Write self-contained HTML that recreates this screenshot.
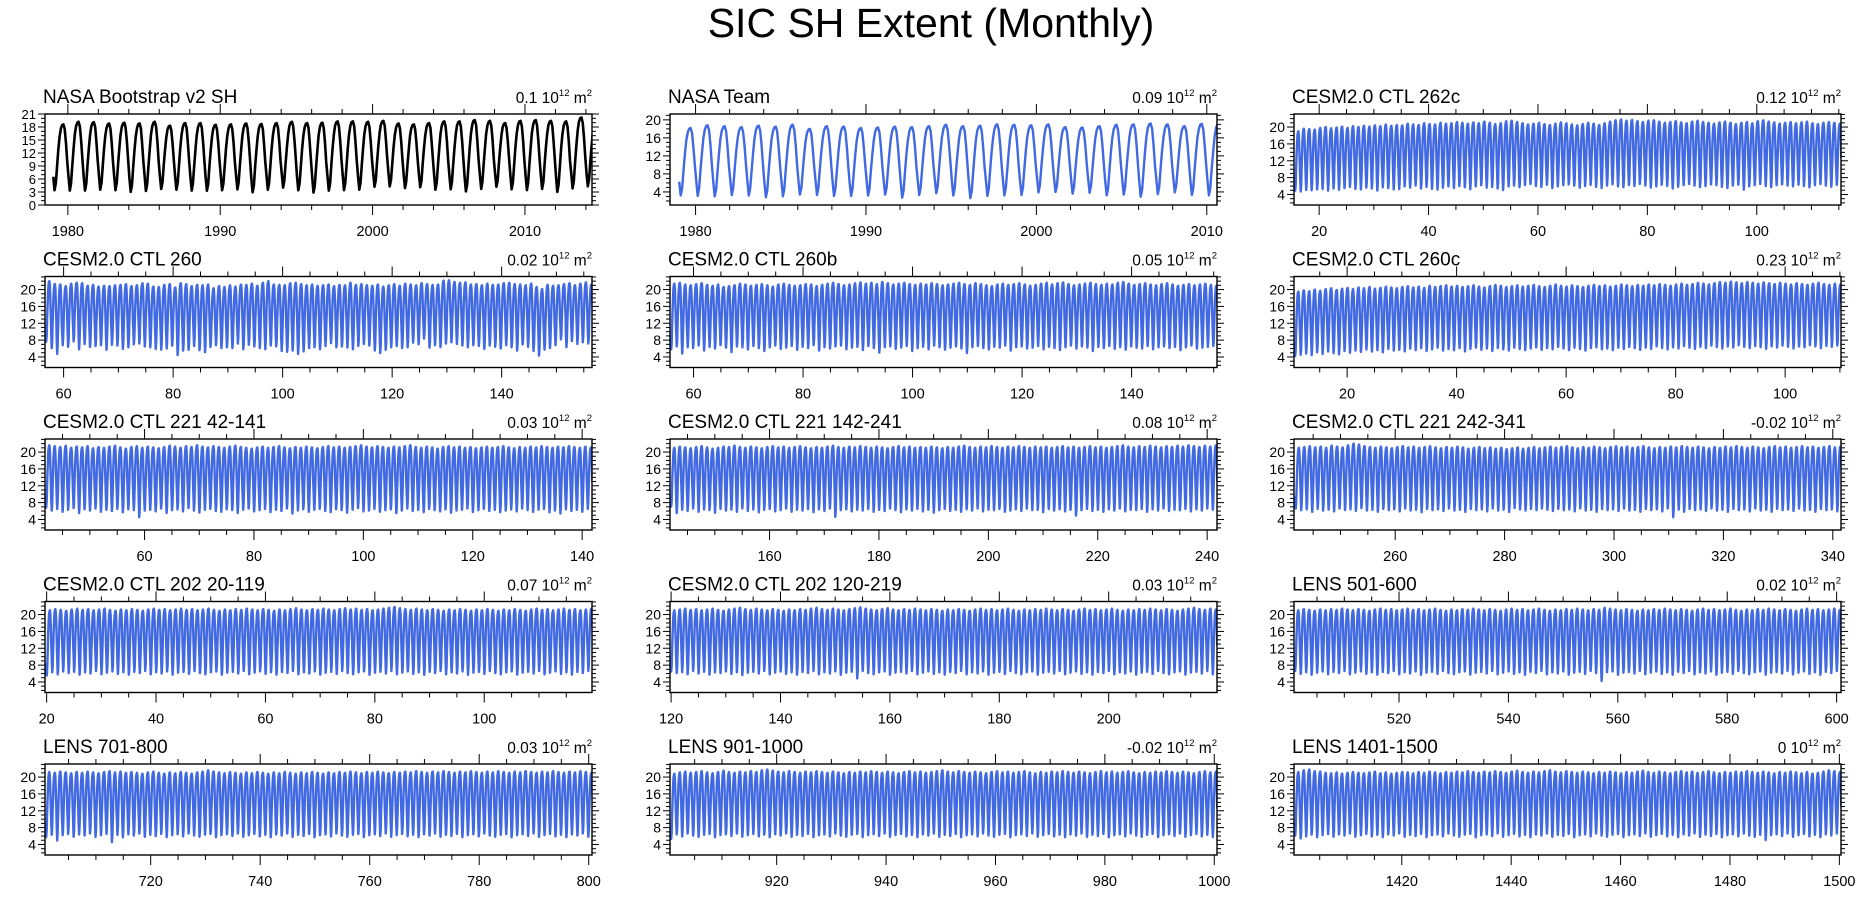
<!DOCTYPE html>
<html>
<head>
<meta charset="utf-8">
<style>
html,body{margin:0;padding:0;background:#fff;}
svg{display:block;font-family:"Liberation Sans",Arial,sans-serif;}
</style>
</head>
<body>
<svg id="fig" width="1863" height="897" viewBox="0 0 1863 897" xmlns="http://www.w3.org/2000/svg">
<rect x="0" y="0" width="1863" height="897" fill="#fff"/>
<text x="931" y="37" text-anchor="middle" font-size="41">SIC SH Extent (Monthly)</text>
</svg>
<script>
// ---- data: annual seasonal max / min (10^12 m^2) per panel ----
const seasonFrac = [0.22,0.02,0.12,0.38,0.62,0.82,0.94,0.99,1.0,0.93,0.72,0.45];

const bootMax = [18.6,19.2,19.1,18.8,19.0,18.8,19.2,18.3,18.9,18.9,18.5,18.6,18.8,18.7,18.9,19.2,18.9,19.0,19.3,19.3,19.2,19.4,18.8,18.6,18.9,19.3,19.3,19.6,19.4,18.9,19.4,19.6,19.4,19.3,20.2,19.6];
const bootMin = [3.1,3.0,3.0,3.2,3.1,2.7,2.9,3.4,3.2,3.0,3.0,3.1,3.3,2.6,3.2,3.7,3.1,2.5,3.0,3.1,3.2,3.9,4.0,3.6,3.8,3.2,3.3,2.8,3.4,3.9,3.3,3.1,3.4,2.7,3.5,4.0];
const teamMax = [18.2,18.8,18.6,18.4,18.7,18.5,18.9,18.0,18.6,18.5,18.2,18.3,18.5,18.4,18.6,18.9,18.6,18.7,19.0,18.9,18.8,19.0,18.4,18.3,18.6,18.9,19.0,19.2,19.0,18.6,19.1,19.2];
const teamMin = [2.9,2.8,2.7,3.0,2.9,2.5,2.7,3.1,3.0,2.8,2.8,2.9,3.1,2.4,3.0,3.4,2.9,2.3,2.8,2.9,3.0,3.6,3.7,3.3,3.5,2.9,3.1,2.6,3.2,3.6,3.0,2.9];

const c262cMax = [19.0,19.6,19.5,19.4,19.8,20.0,19.7,19.9,20.1,19.8,20.2,20.0,20.3,20.1,20.4,20.2,20.6,20.3,20.5,20.4,20.8,20.6,20.5,20.9,20.7,20.6,21.0,20.8,20.9,21.2,21.0,20.8,21.1,20.9,21.3,21.0,20.7,20.9,21.4,21.5,21.2,20.9,20.6,20.8,21.0,20.7,20.5,20.8,21.1,20.9,20.6,20.4,20.7,21.0,20.8,20.5,20.9,21.3,21.6,21.8,21.5,21.7,21.4,21.2,21.5,21.6,21.3,21.0,21.2,21.4,21.1,20.9,21.3,21.5,21.2,21.0,20.8,21.1,21.3,21.0,20.7,21.0,21.2,20.9,21.4,21.6,21.3,21.1,20.8,21.0,21.2,20.9,21.1,21.3,20.9,20.7,21.0,21.2,21.0,20.8];
const c262cMin = [4.6,4.4,4.8,4.7,4.9,5.0,4.6,5.1,4.8,5.2,5.5,5.0,4.9,5.3,5.1,4.6,5.4,5.2,4.9,5.0,5.6,5.3,5.8,5.1,5.5,5.0,4.8,5.3,5.6,5.2,5.7,5.4,4.9,5.6,5.9,5.3,5.5,5.1,4.7,5.6,5.8,5.4,5.9,6.2,5.7,5.5,6.0,5.2,5.6,5.9,6.1,5.8,5.3,5.7,6.0,5.5,5.2,5.8,6.1,5.6,5.4,5.9,5.7,6.2,5.8,5.3,5.6,6.0,5.7,5.1,5.5,5.9,6.2,5.8,5.4,5.7,6.1,5.9,5.5,5.2,5.8,6.0,4.8,5.6,5.9,6.2,5.7,5.4,5.9,6.1,5.8,5.6,6.0,5.7,5.4,5.9,6.2,5.8,5.5,6.0];

const c260Max = [22.0,21.3,21.2,20.8,21.4,21.6,21.5,20.9,21.1,20.7,20.9,20.8,21.0,21.1,21.3,20.8,21.0,21.5,21.4,20.7,20.6,21.1,21.3,20.5,21.5,21.3,20.8,21.1,21.0,21.2,20.3,20.8,20.6,21.0,20.7,21.2,21.1,21.4,20.9,21.6,22.0,21.2,21.1,21.0,21.5,21.6,21.3,21.0,21.2,20.9,21.0,21.2,20.8,21.1,21.0,21.6,21.1,21.3,21.0,20.9,21.2,20.7,21.0,21.3,20.9,21.4,21.2,21.0,21.5,21.3,21.1,21.2,22.1,22.2,21.8,21.6,21.7,21.2,21.3,21.0,21.4,21.1,21.2,21.5,21.6,21.3,21.2,21.0,21.4,20.6,20.1,21.1,20.9,21.0,21.3,21.5,21.0,21.4,21.7,21.2];
const c260Min = [7.3,5.8,4.4,6.5,6.1,7.4,5.5,6.8,6.1,6.3,6.5,5.4,6.6,6.4,5.6,6.0,6.7,6.9,6.2,6.0,5.6,5.4,5.7,6.4,4.1,5.2,5.4,6.3,5.3,4.8,6.1,6.5,5.8,6.0,5.8,6.9,5.5,6.6,6.2,5.8,5.5,6.4,6.2,5.1,4.9,5.2,4.4,5.0,5.8,6.0,5.5,6.3,7.0,6.0,6.2,5.9,5.5,6.3,6.8,6.4,5.2,4.6,5.4,6.0,6.3,5.8,6.0,7.1,6.7,8.1,5.9,6.5,6.0,6.9,7.2,6.8,6.4,6.0,6.5,6.3,5.6,6.4,6.1,5.7,6.5,6.0,5.2,6.7,6.1,5.1,4.0,5.4,5.8,6.5,7.9,6.0,7.5,6.8,7.2,6.9];

const c260bMax = [21.4,21.6,21.2,21.0,21.3,21.5,21.1,20.9,21.2,20.6,20.8,21.0,21.4,21.2,20.9,21.1,21.3,21.0,20.7,21.2,21.4,21.1,20.9,21.0,21.3,21.2,20.8,21.1,21.4,21.6,21.3,21.0,21.2,21.5,21.7,21.4,21.6,21.3,21.8,21.5,21.2,21.4,21.6,21.3,21.1,21.4,21.2,21.5,21.3,21.0,21.2,21.4,21.6,21.3,21.1,21.5,21.3,21.0,20.8,21.2,21.4,21.1,21.3,21.5,21.2,20.9,21.1,21.4,21.6,21.2,21.5,21.7,21.3,21.0,21.2,21.4,21.6,21.3,21.1,21.4,21.2,21.6,21.8,21.4,21.1,21.3,21.5,21.2,21.0,21.3,21.5,21.2,20.9,21.1,21.3,21.0,21.2,21.4,21.1,20.9];
const c260bMin = [5.5,6.2,4.5,6.0,5.8,6.4,5.2,6.1,5.7,6.5,5.9,4.8,6.2,6.0,5.5,6.3,5.8,5.1,6.0,6.4,5.6,5.9,6.3,5.4,6.1,5.8,6.5,5.2,6.0,5.7,6.2,6.4,5.5,5.9,6.1,5.3,6.3,5.8,4.7,6.0,6.2,5.6,5.9,6.3,5.1,5.8,6.1,5.5,6.4,6.0,5.4,5.9,6.2,5.7,4.6,6.0,6.3,5.8,5.5,6.1,5.9,6.4,5.2,6.0,6.2,5.7,5.9,6.3,5.5,6.1,5.8,5.3,6.0,6.4,5.7,6.2,5.9,5.1,6.1,5.8,6.3,5.6,6.0,5.4,6.2,5.9,5.7,6.3,5.5,6.0,6.2,5.8,6.1,5.3,6.0,6.4,5.7,5.9,6.1,6.3];

const c260cMax = [19.5,19.8,19.6,20.0,19.7,20.1,20.3,19.9,20.2,20.4,20.1,20.5,20.3,20.6,20.2,20.4,20.7,20.5,20.3,20.6,20.8,20.5,20.7,20.4,20.9,20.6,20.8,21.0,20.7,20.9,20.6,20.8,21.0,20.7,20.5,20.8,21.1,20.9,20.6,20.8,21.0,20.7,20.9,21.1,20.8,20.6,20.9,21.2,20.9,20.7,21.0,20.8,20.6,20.9,21.1,20.8,21.0,20.7,20.9,21.2,21.0,20.8,21.1,20.9,21.2,21.0,21.3,21.1,20.9,21.2,21.4,21.1,21.3,21.6,21.4,21.2,21.5,21.8,21.6,21.9,21.7,21.5,21.8,21.6,21.4,21.7,21.5,21.3,21.6,21.4,21.2,21.5,21.3,21.1,21.4,21.6,21.3,21.1,21.4,21.2];
const c260cMin = [3.9,4.2,4.5,4.1,4.8,4.4,5.0,4.6,4.3,5.1,4.7,5.2,4.9,5.5,5.0,5.3,4.8,5.6,5.2,5.4,5.0,5.7,5.3,5.8,5.1,5.5,5.9,5.2,5.6,5.3,5.8,5.0,5.6,5.9,5.4,5.7,5.1,5.8,5.5,5.2,5.9,5.6,5.3,5.7,6.0,5.4,5.8,5.5,6.1,5.7,5.3,5.9,5.6,5.2,5.8,6.0,5.5,5.7,5.3,5.9,5.6,6.1,5.8,5.4,5.9,5.6,6.2,5.8,5.5,6.0,5.7,6.3,5.9,5.6,6.1,5.8,6.4,6.0,5.7,6.2,5.9,6.5,6.1,5.8,6.3,6.0,5.6,6.2,5.9,6.4,6.1,5.7,6.2,6.0,6.5,6.2,5.8,6.3,6.1,6.4];

const c221aMax = [21.6,21.4,21.2,21.5,21.0,21.3,21.1,21.4,20.9,21.2,21.0,21.3,21.5,21.1,20.8,21.2,21.4,21.0,21.3,21.1,20.9,21.2,21.5,21.3,21.0,21.4,21.2,21.6,21.3,21.1,21.4,21.2,21.0,21.3,21.5,21.2,21.0,20.8,21.1,21.3,21.0,21.2,21.4,21.1,20.9,21.2,21.0,21.3,21.1,20.9,21.2,21.4,21.1,21.3,21.0,21.2,21.4,21.6,21.3,21.1,21.4,21.2,21.0,21.3,21.1,21.4,21.6,21.2,21.0,21.3,21.1,20.8,21.2,21.4,21.1,21.3,21.0,21.2,20.9,21.1,21.3,21.0,21.2,21.4,21.1,20.9,21.2,21.0,21.3,21.1,21.4,21.2,21.0,21.3,21.1,21.4,21.2,21.0,21.3,21.1];
const c221aMin = [6.5,5.8,6.2,5.5,6.0,6.4,5.2,6.1,5.8,6.3,5.5,6.0,5.7,6.2,5.4,6.1,5.9,4.2,5.8,6.0,5.6,6.3,5.2,5.9,6.1,5.6,6.4,5.8,5.3,6.0,6.2,5.7,5.5,6.1,5.9,5.2,6.0,6.3,5.6,5.9,6.2,5.4,6.0,5.7,6.3,5.1,5.8,6.1,5.5,6.0,6.2,5.7,5.4,6.1,5.9,5.3,6.0,6.4,5.6,5.8,6.2,5.5,5.9,6.1,5.2,5.8,6.3,5.7,6.0,5.4,6.2,5.9,5.6,6.1,5.3,5.8,6.0,6.3,5.5,5.9,6.2,5.7,6.0,5.4,5.8,6.1,5.6,6.3,5.9,5.5,6.0,6.2,5.4,5.8,5.1,6.1,5.7,6.0,5.5,6.2];

const c221bMax = [21.0,21.3,21.1,20.9,21.2,21.4,21.1,20.8,21.0,21.3,21.2,21.5,21.2,21.0,21.3,21.1,20.9,21.2,21.4,21.1,21.3,21.0,21.2,21.4,21.1,20.9,21.2,21.0,21.3,21.5,21.2,21.0,21.3,21.1,21.4,21.2,21.0,21.3,21.1,20.9,21.2,21.4,21.1,21.3,21.0,21.2,21.0,21.3,21.1,20.9,21.2,21.0,21.3,21.5,21.2,21.0,21.3,21.1,21.4,21.2,21.0,21.3,21.1,21.4,21.2,21.0,21.3,21.1,21.3,21.0,21.2,21.4,21.1,21.3,21.0,21.2,21.4,21.1,21.3,21.0,21.2,21.4,21.6,21.3,21.1,21.4,21.2,21.5,21.3,21.1,21.4,21.2,21.5,21.3,21.6,21.4,21.2,21.5,21.3,21.6];
const c221bMin = [6.8,5.2,6.0,5.7,6.3,5.5,6.1,5.9,5.3,6.2,5.8,6.0,5.5,6.3,5.7,6.1,5.4,6.0,6.2,5.6,5.9,6.3,5.5,6.0,5.8,6.2,5.4,6.1,5.7,6.3,4.3,5.9,6.1,5.6,6.0,5.8,6.2,5.5,6.0,5.7,6.3,5.9,5.4,6.1,5.8,6.2,5.6,6.0,5.3,5.9,6.2,5.7,6.0,5.5,6.1,5.8,6.3,5.6,6.0,5.9,6.2,5.5,5.8,6.1,5.7,6.3,5.9,6.0,5.4,6.2,5.8,6.1,5.6,6.0,4.6,5.9,6.2,5.7,6.0,5.5,6.1,5.8,6.3,5.6,6.0,5.9,6.2,5.5,6.1,5.8,6.3,5.7,6.0,5.9,6.2,5.6,6.1,5.8,6.3,6.0];

const c221cMax = [21.0,21.2,21.4,21.1,21.3,21.0,21.5,21.3,21.1,21.6,22.0,21.8,21.4,21.2,21.0,21.3,21.1,20.9,21.2,21.4,21.1,21.3,21.0,21.2,21.4,21.1,20.9,21.2,21.0,21.3,21.1,20.8,21.0,21.2,20.9,21.1,20.8,21.0,20.7,20.9,21.1,20.8,21.0,21.2,20.9,21.1,21.3,21.0,21.2,21.4,21.1,20.9,21.2,21.0,21.3,21.1,20.9,21.2,21.4,21.1,21.3,21.0,21.2,21.4,21.1,20.9,21.2,21.0,21.3,21.1,21.4,21.2,21.0,21.3,21.1,20.9,21.2,21.0,21.3,21.1,21.4,21.2,21.0,21.3,21.1,20.9,21.2,21.4,21.1,21.3,21.0,21.2,21.4,21.1,21.3,21.0,21.2,21.4,21.1,21.3];
const c221cMin = [6.3,5.9,6.1,5.5,6.2,5.8,6.0,5.6,6.3,5.9,6.1,5.7,6.4,5.8,6.0,5.5,6.2,5.9,6.1,5.6,6.3,5.8,6.0,5.4,6.2,5.9,6.1,5.7,6.3,5.8,6.0,5.5,6.2,5.9,6.1,5.6,6.3,5.8,6.0,5.5,6.4,6.1,5.8,6.2,5.9,6.3,6.0,5.7,6.2,5.9,6.1,5.6,6.3,5.8,6.0,5.5,6.2,5.9,6.1,5.7,6.3,5.8,6.0,5.5,6.2,5.9,6.1,5.6,6.3,4.2,6.0,5.5,6.2,5.9,6.1,5.7,6.3,5.8,6.0,5.5,6.2,5.9,6.1,5.6,6.3,5.8,6.0,5.5,6.2,5.9,6.1,5.7,6.3,5.8,6.0,5.5,6.2,5.9,6.1,5.6];

const c202aMax = [21.0,21.3,21.1,20.9,21.2,21.4,21.1,21.3,21.0,21.2,21.4,21.1,20.9,21.2,21.0,21.3,21.1,20.9,21.2,21.4,21.1,21.3,21.0,21.2,21.4,21.1,21.3,21.0,21.2,21.4,21.1,20.9,21.2,21.0,21.3,21.1,21.4,21.2,21.0,21.3,21.1,20.9,21.2,21.0,21.3,21.5,21.2,21.0,21.3,21.1,21.4,21.2,21.0,21.3,21.5,21.2,21.4,21.1,21.3,21.0,21.2,21.4,21.6,21.8,21.5,21.3,21.1,21.4,21.2,21.0,21.3,21.1,20.9,21.2,21.0,21.3,21.1,20.9,21.2,21.0,21.3,21.1,20.9,21.2,21.0,21.3,21.1,20.9,21.2,21.4,21.1,21.3,21.0,21.2,21.4,21.1,21.3,21.0,21.2,21.4];
const c202aMin = [5.2,6.0,5.5,6.2,5.8,6.1,5.4,6.0,5.7,6.3,5.5,5.9,6.2,5.6,6.0,5.4,6.1,5.8,6.3,5.5,6.0,5.7,6.2,5.4,5.9,6.1,5.6,6.3,5.8,5.5,6.0,6.2,5.4,5.9,6.1,5.7,6.3,5.5,5.9,6.2,5.6,6.0,5.4,6.1,5.8,6.3,5.5,6.0,5.7,6.2,5.4,5.9,6.1,5.6,6.3,5.8,5.5,6.0,6.2,5.4,5.9,6.1,5.7,6.3,5.5,5.9,6.2,5.6,6.0,5.4,6.1,5.8,6.3,5.5,6.0,5.7,6.2,5.4,5.9,6.1,5.6,6.3,5.8,5.5,6.0,6.2,5.4,5.9,6.1,5.7,6.3,5.5,5.9,6.2,5.6,6.0,5.4,6.1,5.8,6.3];

const c202bMax = [21.0,21.2,21.4,21.1,21.3,21.0,21.2,21.4,21.1,20.9,21.2,21.4,21.6,21.3,21.1,21.4,21.2,21.0,21.3,21.1,20.9,21.2,21.0,21.3,21.1,21.4,21.6,21.3,21.1,21.4,21.2,21.0,21.3,21.5,21.7,21.4,21.2,21.0,21.3,21.5,21.2,21.0,21.3,21.1,21.4,21.2,21.0,21.3,21.1,20.9,21.2,21.0,21.3,21.1,20.9,21.2,21.4,21.1,21.3,21.0,21.2,21.4,21.1,20.9,21.2,21.0,21.3,21.1,21.4,21.2,21.0,21.3,21.1,20.9,21.2,21.4,21.1,21.3,21.0,21.2,21.4,21.1,20.9,21.2,21.0,21.3,21.1,21.4,21.2,21.0,21.3,21.1,20.9,21.2,21.4,21.6,21.3,21.1,21.4,21.2];
const c202bMin = [6.2,5.8,6.0,5.5,6.3,5.7,6.1,5.4,6.0,5.8,6.2,5.6,6.0,5.3,5.9,6.1,5.7,6.3,5.5,5.9,6.2,5.6,6.0,5.4,6.1,5.8,6.3,5.5,6.0,5.7,6.2,5.4,5.9,6.1,4.5,6.3,5.8,5.5,6.0,6.2,5.4,5.9,6.1,5.7,6.3,5.5,5.9,6.2,5.6,6.0,5.4,6.1,5.8,6.3,5.5,6.0,5.7,6.2,5.4,5.9,6.1,5.6,6.3,5.8,5.5,6.0,6.2,5.4,5.9,6.1,5.7,6.3,5.5,5.9,6.2,5.6,6.0,5.4,6.1,5.8,6.3,5.5,6.0,5.7,6.2,5.4,5.9,6.1,5.6,6.3,5.8,5.5,6.0,6.2,5.4,5.9,6.1,5.7,6.3,5.5];

const l501Max = [21.0,21.3,21.1,20.9,21.2,21.0,21.3,21.1,21.4,21.2,21.0,21.3,21.1,20.9,21.2,21.4,21.1,21.3,21.0,21.2,21.4,21.1,21.3,21.0,21.2,21.4,21.1,20.9,21.2,21.0,21.3,21.1,21.4,21.2,21.0,21.3,21.1,20.9,21.2,21.4,21.1,21.3,21.0,21.2,21.4,21.1,20.9,21.2,21.0,21.3,21.1,21.4,21.2,21.0,21.3,21.1,21.6,21.4,21.2,21.0,21.3,21.1,20.9,21.2,21.0,21.3,21.1,21.4,21.2,21.0,21.3,21.1,20.9,21.2,21.4,21.1,21.3,21.0,21.2,21.4,21.1,20.9,21.2,21.0,21.3,21.1,21.4,21.2,21.0,21.3,21.1,20.9,21.2,21.4,21.1,21.3,21.0,21.2,21.4,21.1];
const l501Min = [6.3,5.6,6.0,5.4,5.9,6.2,5.5,6.1,5.8,6.3,5.5,5.9,6.2,5.6,6.0,5.4,6.1,5.8,6.3,5.5,6.0,5.7,6.2,5.4,5.9,6.1,5.6,6.3,5.8,5.5,6.0,6.2,5.4,5.9,6.1,5.7,6.3,5.5,5.9,6.2,5.6,6.0,5.4,6.1,5.8,6.3,5.5,6.0,5.7,6.2,5.4,5.9,6.1,5.6,6.3,5.8,3.9,6.0,6.2,5.4,5.9,6.1,5.7,6.3,5.5,5.9,6.2,5.6,6.0,5.4,6.1,5.8,6.3,5.5,6.0,5.7,6.2,5.4,5.9,6.1,5.6,6.3,5.8,5.5,6.0,6.2,5.4,5.9,6.1,5.7,6.3,5.5,5.9,6.2,5.6,6.0,5.4,6.1,5.8,6.3];

const l701Max = [21.2,21.0,21.3,21.1,20.9,21.2,21.0,21.3,21.1,20.9,21.2,21.4,21.1,21.3,21.0,21.2,21.0,20.8,21.1,21.3,21.0,20.8,21.1,20.9,21.2,21.0,20.8,21.1,21.3,21.6,21.3,21.1,20.9,21.2,21.0,20.8,21.1,20.9,21.2,21.0,20.8,21.1,20.9,21.2,21.0,20.8,21.1,20.9,21.2,21.0,20.8,21.1,20.9,21.2,21.0,21.3,21.1,20.9,21.2,21.0,21.3,21.1,20.9,21.2,21.0,21.3,21.1,21.4,21.2,21.0,21.3,21.1,21.4,21.2,21.0,21.3,21.1,21.4,21.2,21.0,21.3,21.1,21.4,21.2,21.0,21.3,21.1,21.4,21.2,21.0,21.3,21.1,21.4,21.2,21.0,21.3,21.1,21.4,21.2,21.0];
const l701Min = [5.4,6.0,4.6,5.9,6.2,5.5,6.1,5.8,6.3,5.5,5.9,6.2,4.2,6.0,5.4,6.1,5.8,6.3,5.5,6.0,5.7,6.2,5.4,5.9,6.1,5.6,6.3,5.8,5.5,6.0,6.2,5.4,5.9,6.1,5.7,6.3,5.5,5.9,6.2,5.6,6.0,5.4,6.1,5.8,6.3,5.5,6.0,5.7,6.2,5.4,5.9,6.1,5.6,6.3,5.8,5.5,6.0,6.2,5.4,5.9,6.1,5.7,6.3,5.5,5.9,6.2,5.6,6.0,5.4,6.1,5.8,6.3,5.5,6.0,5.7,6.2,5.4,5.9,6.1,5.6,6.3,5.8,5.5,6.0,6.2,5.4,5.9,6.1,5.7,6.3,5.5,5.9,6.2,5.6,6.0,5.4,6.1,5.8,6.3,5.5];

const l901Max = [20.8,21.1,21.3,21.0,21.2,21.4,21.1,20.9,21.2,21.5,21.2,21.0,21.3,21.1,21.4,21.2,21.6,21.8,21.5,21.3,21.1,21.4,21.2,21.0,21.3,21.1,21.4,21.2,21.0,21.3,21.1,20.9,21.2,21.0,21.3,21.1,21.4,21.2,21.0,21.3,21.1,20.9,21.2,21.4,21.1,21.3,21.0,21.2,21.4,21.6,21.3,21.1,21.4,21.2,21.0,21.3,21.1,20.9,21.2,21.4,21.1,21.3,21.0,21.2,21.4,21.1,20.9,21.2,21.0,21.3,21.1,21.4,21.2,21.0,21.3,21.1,20.9,21.2,21.4,21.1,21.3,21.0,21.2,21.4,21.1,20.9,21.2,21.0,21.3,21.1,21.4,21.2,21.0,21.3,21.1,20.9,21.2,21.4,21.1,21.3];
const l901Min = [5.0,6.1,5.6,6.3,5.8,5.5,6.0,6.2,5.4,5.9,6.1,5.7,6.3,5.5,5.9,6.2,5.6,6.0,5.4,6.1,5.8,6.3,5.5,6.0,5.7,6.2,5.4,5.9,6.1,5.6,6.3,5.8,5.5,6.0,6.2,5.4,5.9,6.1,5.7,6.3,5.5,5.9,6.2,5.6,6.0,5.4,6.1,5.8,6.3,5.5,6.0,5.7,6.2,5.4,5.9,6.1,5.6,6.3,5.8,5.5,6.0,6.2,5.4,5.9,6.1,5.7,6.3,5.5,5.9,6.2,5.6,6.0,5.4,6.1,5.8,6.3,5.5,6.0,5.7,6.2,5.4,5.9,6.1,5.6,6.3,5.8,5.5,6.0,6.2,5.4,5.9,6.1,5.7,6.3,5.5,5.9,6.2,5.6,6.0,5.4];

const l1401Max = [21.2,21.6,21.8,21.4,21.3,21.0,20.9,21.1,20.8,21.0,21.2,21.0,20.9,21.1,21.3,20.9,21.1,20.8,21.0,21.2,21.1,20.9,21.2,21.0,21.3,21.1,20.9,21.2,21.0,21.3,21.1,21.4,21.2,21.0,21.3,21.1,21.4,21.2,21.0,21.3,21.5,21.2,21.0,21.3,21.1,21.4,21.6,21.3,21.1,21.4,21.2,21.0,21.3,21.1,20.9,21.2,21.0,21.3,21.1,20.9,21.2,21.0,21.3,21.5,21.2,21.0,21.3,21.1,20.9,21.2,21.4,21.1,21.3,21.0,21.2,21.4,21.1,20.9,21.2,21.0,21.3,21.1,21.4,21.2,21.0,21.3,21.1,20.9,21.2,21.0,21.3,21.1,20.9,21.2,20.8,21.0,21.3,21.6,21.4,21.2];
const l1401Min = [5.8,5.1,5.6,6.0,5.4,5.9,6.2,5.5,6.1,5.8,6.3,5.5,5.9,6.2,5.6,6.0,5.4,6.1,5.8,6.3,5.5,6.0,5.7,6.2,5.4,5.9,6.1,5.6,6.3,5.8,5.5,6.0,6.2,5.4,5.9,6.1,5.7,6.3,5.5,5.9,6.2,5.6,6.0,5.4,6.1,5.8,6.3,5.5,6.0,5.7,6.2,5.4,5.9,6.1,5.6,6.3,5.8,5.5,6.0,6.2,5.4,5.9,6.1,5.7,6.3,5.5,5.9,6.2,5.6,6.0,5.4,6.1,5.8,6.3,5.5,6.0,5.7,6.2,5.4,5.9,6.1,5.6,6.3,5.8,5.5,6.0,4.7,5.9,6.1,5.7,6.3,5.5,5.9,6.2,5.6,6.0,5.4,6.1,5.8,6.3];

const trendLabels = ["0.1","0.09","0.12","0.02","0.05","0.23","0.03","0.08","-0.02","0.07","0.03","0.02","0.03","-0.02","0"];
const panelTitles = ["NASA Bootstrap v2 SH","NASA Team","CESM2.0 CTL 262c","CESM2.0 CTL 260","CESM2.0 CTL 260b","CESM2.0 CTL 260c","CESM2.0 CTL 221 42-141","CESM2.0 CTL 221 142-241","CESM2.0 CTL 221 242-341","CESM2.0 CTL 202 20-119","CESM2.0 CTL 202 120-219","LENS 501-600","LENS 701-800","LENS 901-1000","LENS 1401-1500"];
const seriesMax = [bootMax,teamMax,c262cMax,c260Max,c260bMax,c260cMax,c221aMax,c221bMax,c221cMax,c202aMax,c202bMax,l501Max,l701Max,l901Max,l1401Max];
const seriesMin = [bootMin,teamMin,c262cMin,c260Min,c260bMin,c260cMin,c221aMin,c221bMin,c221cMin,c202aMin,c202bMin,l501Min,l701Min,l901Min,l1401Min];
const startYears = [1979,1979,15.5,56.7,55.8,10.4,41.9,141.9,241.7,19.9,119.9,500.9,700.8,900.6,1400.4];
const xMins = [1978.5,1978.5,15.4,56.6,55.7,10.3,41.8,141.8,241.5,19.7,119.8,500.8,700.7,900.5,1400.3];
const xMaxs = [2014.4,2010.6,115.4,156.5,155.6,110.2,141.8,241.8,341.5,119.7,219.8,600.8,800.6,1000.5,1500.3];
const xMajorStep = [10,10,20,20,20,20,20,20,20,20,20,20,20,20,20];
const xMinorStep = [2,2,5,5,5,5,5,5,5,5,5,5,5,5,5];

// ---- layout ----
const NS = "http://www.w3.org/2000/svg";
const svg = document.getElementById("fig");
const colLeft = [45, 670, 1294];
const plotW = 547, plotH = 91;
const rowTop = [114, 276.5, 439, 601.5, 764];

function mk(tag, attrs, parent) {
  const e = document.createElementNS(NS, tag);
  for (const k in attrs) e.setAttribute(k, attrs[k]);
  (parent || svg).appendChild(e);
  return e;
}

for (let p = 0; p < 15; p++) {
  const L = colLeft[p % 3], T = rowTop[Math.floor(p / 3)];
  const R = L + plotW, B = T + plotH;
  const isBoot = p === 0;
  const yMin = isBoot ? 0 : (p === 1 ? 1.1 : 1.5);
  const yMax = isBoot ? 21 : (p === 1 ? 21.3 : 23.1);
  const xs = v => L + (v - xMins[p]) / (xMaxs[p] - xMins[p]) * plotW;
  const ys = v => B - (v - yMin) / (yMax - yMin) * plotH;

  const g = mk("g", {});
  
  

  const clip = mk("clipPath", {id: "clip" + p}, g);
  mk("rect", {x: L, y: T, width: plotW, height: plotH}, clip);

  // series
  const mx = seriesMax[p], mn = seriesMin[p];
  let d = "";
  for (let i = 0; i < mx.length; i++) {
    for (let m = 0; m < 12; m++) {
      const v = mn[i] + seasonFrac[m] * (mx[i] - mn[i]);
      const x = startYears[p] + i + (m + 0.5) / 12;
      d += (d ? "L" : "M") + xs(x).toFixed(1) + " " + ys(v).toFixed(1);
    }
  }
  const line = mk("path", {d: d, fill: "none", stroke: isBoot ? "#000" : "#4169e1", "stroke-width": isBoot ? 2.6 : 2.4, "stroke-linejoin": "round", "clip-path": "url(#clip" + p + ")"}, g);
  
  

  // frame
  const frame = mk("rect", {x: L, y: T, width: plotW, height: plotH, fill: "none", stroke: "#000", "stroke-width": 1.4}, g);
  
  

  // x ticks
  const xt = mk("g", {stroke: "#000", "stroke-width": 1}, g);
  
  
  const mnStep = xMinorStep[p], mjStep = xMajorStep[p];
  for (let v = Math.ceil(xMins[p] / mnStep) * mnStep; v <= xMaxs[p] + 1e-6; v += mnStep) {
    const x = xs(v);
    const major = Math.abs(v / mjStep - Math.round(v / mjStep)) < 1e-6;
    const len = major ? 10 : 5;
    mk("line", {x1: x, y1: B, x2: x, y2: B + len}, xt);
    mk("line", {x1: x, y1: T, x2: x, y2: T - len}, xt);
    if (major) {
      const t = mk("text", {x: x, y: B + 31, "text-anchor": "middle", "font-size": 14.5, stroke: "none"}, g);
      t.textContent = String(v);
      
      
    }
  }

  // y ticks
  const yt = mk("g", {stroke: "#000", "stroke-width": 1}, g);
  
  
  const yMajor = isBoot ? 3 : 4;
  for (let v = Math.ceil(yMin); v <= yMax + 1e-6; v += 1) {
    const y = ys(v);
    const major = v % yMajor === 0;
    const len = major ? 7 : 4;
    mk("line", {x1: L, y1: y, x2: L - len, y2: y}, yt);
    mk("line", {x1: R, y1: y, x2: R + len, y2: y}, yt);
    if (major) {
      const t = mk("text", {x: L - 9, y: y + 5, "text-anchor": "end", "font-size": isBoot ? 13 : 14, stroke: "none"}, g);
      t.textContent = String(v);
      
      
    }
  }

  // titles
  const tt = mk("text", {x: L - 2, y: T - 11, "font-size": 19}, g);
  tt.textContent = panelTitles[p];
  
  

  const tr = mk("text", {x: R, y: T - 11, "text-anchor": "end", "font-size": 15.5}, g);
  
  
  const s1 = mk("tspan", {}, tr); s1.textContent = trendLabels[p] + " 10";
  const s2 = mk("tspan", {dy: -7, "font-size": 9.5}, tr); s2.textContent = "12";
  const s3 = mk("tspan", {dy: 7}, tr); s3.textContent = " m";
  const s4 = mk("tspan", {dy: -7, "font-size": 9.5}, tr); s4.textContent = "2";
}
</script>
</body>
</html>
